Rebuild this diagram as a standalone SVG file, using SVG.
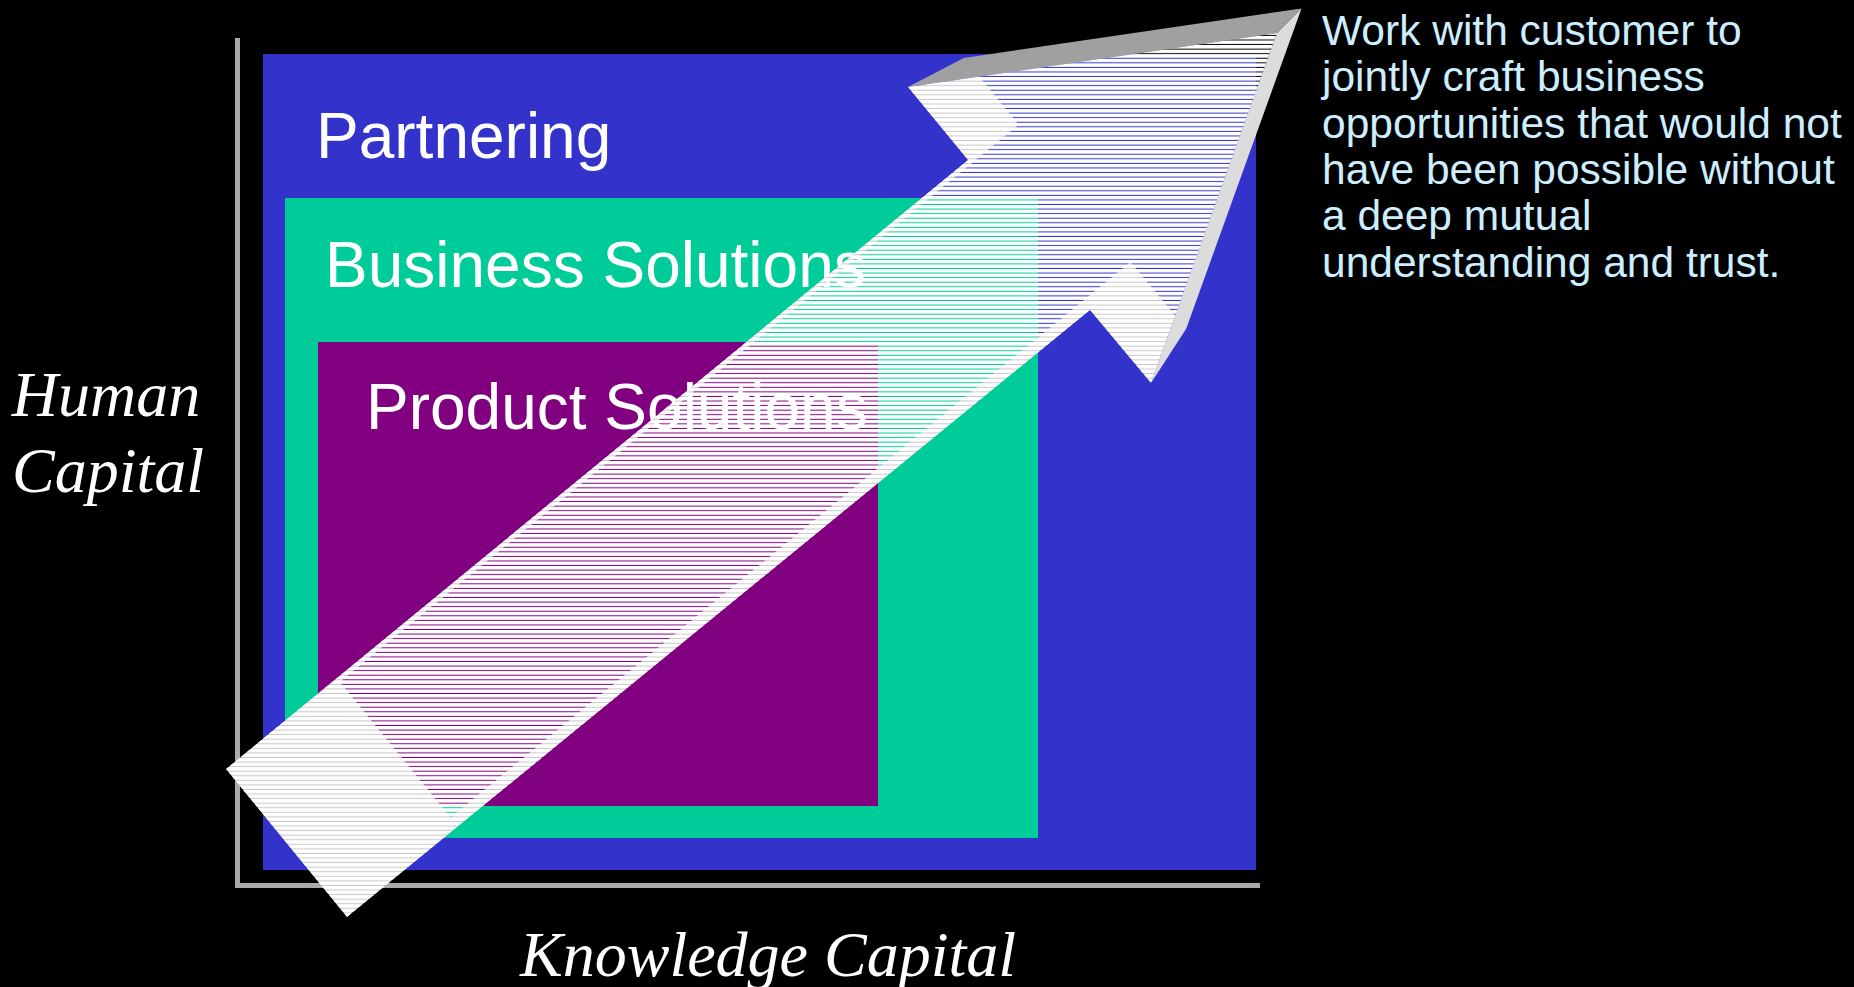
<svg xmlns="http://www.w3.org/2000/svg" width="1854" height="987" viewBox="0 0 1854 987">
<style>
.sans{font-family:"Liberation Sans",Arial,sans-serif;fill:#ffffff;font-size:64px}
.ital{font-family:"Liberation Serif","Times New Roman",serif;font-style:italic;fill:#ffffff;font-size:64px}
.note{font-family:"Liberation Sans",Arial,sans-serif;fill:#cceeff;font-size:42.5px}
.axis{stroke:#aaaaaa;stroke-width:5;fill:none}
</style>
<defs>
<pattern id="stripes" patternUnits="userSpaceOnUse" x="0" y="-0.67" width="20" height="4.57">
<rect x="0" y="0" width="20" height="3.57" fill="#ffffff"/>
</pattern>
<clipPath id="frontClip">
<path d="M226,769 L968,160 L908,87 L1277,33 L1151,383 L1090,310 L347,917 Z"/>
</clipPath>
</defs>
<rect x="0" y="0" width="1854" height="987" fill="#000000"/>
<g id="axes">
<polyline class="axis" points="237.5,38 237.5,885.5 1260,885.5"/>
</g>
<g id="partnering">
<rect x="263" y="54" width="993" height="816" fill="#3333cc"/>
<text class="sans" x="316" y="158">Partnering</text>
</g>
<g id="business-solutions">
<rect x="285" y="198" width="753" height="640" fill="#00cc99"/>
<text class="sans" x="325" y="287">Business Solutions</text>
</g>
<g id="product-solutions">
<rect x="318" y="342" width="560" height="464" fill="#800080"/>
<text class="sans" x="366" y="429">Product Solutions</text>
</g>
<g id="axis-labels">
<text class="ital" x="106" y="416" text-anchor="middle">Human</text>
<text class="ital" x="108" y="492" text-anchor="middle">Capital</text>
<text class="ital" x="768" y="976" text-anchor="middle">Knowledge Capital</text>
</g>
<g id="connectors">
<g id="arrow">
<path d="M226,769 L968,160 L908,87 L1277,33 L1151,383 L1090,310 L347,917 Z M339.8,682 L1018.7,124.7 L963.8,57.9 L1301.5,8.5 L1186.2,328.8 L1130.4,262 L450.5,817.4 Z" fill="#c8c8c8" fill-rule="evenodd" clip-path="url(#frontClip)"/>
<path d="M908,87 L963.8,57.9 L1301.5,8.5 L1277,33 Z" fill="#a0a0a0"/>
<path d="M1277,33 L1301.5,8.5 L1186.2,328.8 L1151,383 Z" fill="#dcdcdc"/>
<path d="M226,769 L968,160 L908,87 L1277,33 L1151,383 L1090,310 L347,917 Z" fill="url(#stripes)"/>
</g>
</g>
<g id="description">
<text class="note" x="1322" y="45">Work with customer to</text>
<text class="note" x="1322" y="91">jointly craft business</text>
<text class="note" x="1322" y="138">opportunities that would not</text>
<text class="note" x="1322" y="184">have been possible without</text>
<text class="note" x="1322" y="230">a deep mutual</text>
<text class="note" x="1322" y="277">understanding and trust.</text>
</g>
</svg>
